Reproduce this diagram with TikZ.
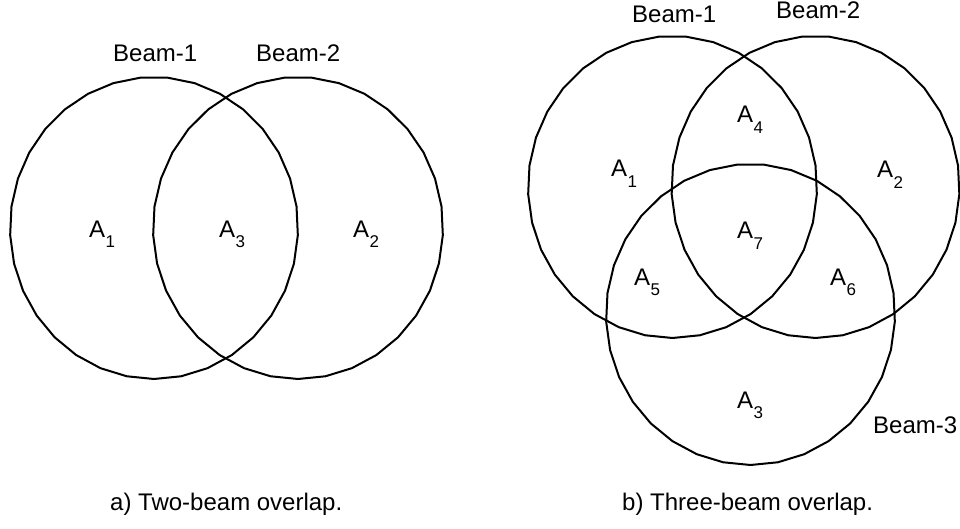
\documentclass[tikz,border=0pt]{standalone}
\usepackage{fontspec}
\setmainfont{Liberation Sans}
\newcommand{\Asub}[1]{A\kern0.5pt\raisebox{-0.42em}{\fontsize{17}{17}\selectfont #1}}
\tikzset{
  lbl/.style={anchor=base west, inner sep=0pt, font=\fontsize{24}{28}\selectfont},
  beam/.style={line width=2pt, line join=round}
}
\newcommand{\polycirc}[4]{%
  \draw[beam] plot[samples=34, domain=0:360, variable=\t] ({#1+#3*cos(\t+90)}, {#2+#4*sin(\t+90)}) -- cycle;}
\begin{document}
\begin{tikzpicture}[x=1pt, y=-1pt]
\useasboundingbox (0,0) rectangle (960,529);
% left figure
\polycirc{154}{228}{144}{151}
\polycirc{298}{228}{145}{151}
\node[lbl] (lb1) at (113,62) {Beam-1};
\node[lbl] (lb2) at (256,62) {Beam-2};
\node[lbl] (la1) at (89,237) {\Asub{1}};
\node[lbl] (la3) at (219,237) {\Asub{3}};
\node[lbl] (la2) at (353,237) {\Asub{2}};
\node[lbl] (capa) at (110,510) {a) Two-beam overlap.};
% right figure
\polycirc{672.5}{187}{144.5}{151}
\polycirc{815.5}{187}{144}{151}
\polycirc{750.5}{314.5}{144.5}{150.5}
\node[lbl] (rb1) at (632,23) {Beam-1};
\node[lbl] (rb2) at (776,19) {Beam-2};
\node[lbl] (rb3) at (873,433) {Beam-3};
\node[lbl] (ra4) at (737,123) {\Asub{4}};
\node[lbl] (ra1) at (611,177) {\Asub{1}};
\node[lbl] (ra2) at (877,178) {\Asub{2}};
\node[lbl] (ra7) at (737,239) {\Asub{7}};
\node[lbl] (ra5) at (634,285) {\Asub{5}};
\node[lbl] (ra6) at (830,285) {\Asub{6}};
\node[lbl] (ra3) at (737,408) {\Asub{3}};
\node[lbl] (capb) at (622,510) {b) Three-beam overlap.};
\end{tikzpicture}
\end{document}
